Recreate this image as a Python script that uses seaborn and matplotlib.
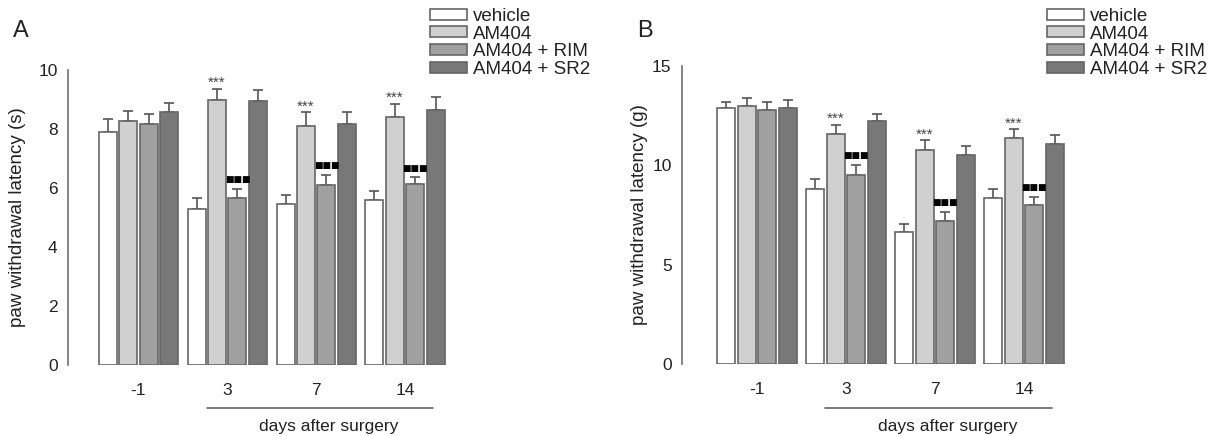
import seaborn as sns
import pandas as pd
import matplotlib.pyplot as plt
from matplotlib.patches import Patch

days = ["-1", "3", "7", "14"]
groups = ["vehicle", "AM404", "AM404 + RIM", "AM404 + SR2"]
colors = ["#ffffff", "#d0d0d0", "#a0a0a0", "#787878"]

# panel A: latency (s), mean per group and day
a_vehicle = [7.90, 5.28, 5.45, 5.60]
a_am404 = [8.27, 8.98, 8.10, 8.42]
a_rim = [8.18, 5.65, 6.10, 6.15]
a_sr2 = [8.58, 8.94, 8.18, 8.63]
a_vehicle_err = [0.43, 0.38, 0.31, 0.30]
a_am404_err = [0.33, 0.39, 0.48, 0.44]
a_rim_err = [0.33, 0.31, 0.33, 0.21]
a_sr2_err = [0.31, 0.39, 0.41, 0.44]

# panel B: latency (g)
b_vehicle = [12.88, 8.83, 6.63, 8.38]
b_am404 = [13.00, 11.58, 10.75, 11.37]
b_rim = [12.80, 9.50, 7.22, 7.98]
b_sr2 = [12.87, 12.25, 10.50, 11.06]
b_vehicle_err = [0.30, 0.48, 0.40, 0.44]
b_am404_err = [0.41, 0.47, 0.52, 0.44]
b_rim_err = [0.41, 0.52, 0.43, 0.45]
b_sr2_err = [0.40, 0.32, 0.45, 0.45]

# which bars carry marks (day index)
star_days = [1, 2, 3]
square_days = [1, 2, 3]


def make_df(vals):
    rows = []
    for g, v in zip(groups, vals):
        for d, x in zip(days, v):
            rows.append({"day": d, "group": g, "value": x})
    return pd.DataFrame(rows)


def draw_panel(fig, rect, vals, errs, ymax, yticks, ylabel, letter, letter_x,
               legend_x, ylab_x, xleft):
    ax = fig.add_axes(rect)
    df = make_df(vals)
    sns.barplot(data=df, x="day", y="value", hue="group", order=days,
                hue_order=groups, palette=colors, edgecolor="#666666",
                linewidth=1.2, width=0.92, gap=0.12, legend=False, ax=ax)
    # error bars (upper only) on top of the seaborn bars
    for cont, err in zip(ax.containers, errs):
        xs = [p.get_x() + p.get_width() / 2 for p in cont.patches]
        hs = [p.get_height() for p in cont.patches]
        ax.errorbar(xs, hs, yerr=[[0] * len(err), err], fmt="none",
                    ecolor="#555555", elinewidth=1.2, capsize=3.3,
                    capthick=1.2, zorder=1)
    for p in ax.patches:
        p.set_zorder(2)
    # significance marks
    am = ax.containers[1].patches
    rim = ax.containers[2].patches
    for i in star_days:
        top = am[i].get_height() + errs[1][i]
        ax.annotate("***", (am[i].get_x() + am[i].get_width() / 2, top),
                    xytext=(0, 1), textcoords="offset points", ha="center",
                    va="baseline", fontsize=11, color="#444444")
    for i in square_days:
        top = rim[i].get_height() + errs[2][i]
        ax.annotate("\u25a0\u25a0\u25a0",
                    (rim[i].get_x() + rim[i].get_width() / 2, top),
                    xytext=(0, 3.5), textcoords="offset points", ha="center",
                    va="bottom", fontsize=6.5, color="black",
                    family=["DejaVu Sans"])

    ax.set_xlim(xleft, 3.55)
    ax.set_ylim(0, ymax)
    ax.set_yticks(yticks)
    ax.set_xlabel("")
    ax.set_ylabel(ylabel, fontsize=13.5, color="#222222")
    ax.yaxis.set_label_coords(ylab_x, 0.5)
    sns.despine(ax=ax, bottom=True)
    ax.spines["left"].set_color("#707070")
    ax.spines["left"].set_linewidth(1.2)
    ax.tick_params(axis="y", length=4, width=1.2, color="#707070",
                   labelsize=12.5, labelcolor="#222222")
    ax.tick_params(axis="x", length=0, pad=13, labelsize=12.5,
                   labelcolor="#222222")

    # bracket line and caption for post-surgery days
    trans = ax.get_xaxis_transform()
    ax.plot([0.77, 3.31], [-0.146, -0.146], transform=trans, color="#707070",
            lw=1.3, clip_on=False)
    ax.text(2.14, -0.21, "days after surgery", transform=trans, ha="center",
            va="center", fontsize=12.5, color="#222222")

    fig.text(letter_x, 0.93, letter, fontsize=17, ha="center", va="center",
             color="#222222")

    handles = [Patch(facecolor=c, edgecolor="#666666", linewidth=1.2)
               for c in colors]
    fig.legend(handles, groups, loc="upper left",
               bbox_to_anchor=(legend_x, 0.982), frameon=False, fontsize=13.5,
               handlelength=1.97, handleheight=0.53, handletextpad=0.32,
               labelspacing=0.04, borderpad=0, borderaxespad=0,
               labelcolor="#222222")
    return ax


def main():
    sns.set_style("white")
    plt.rcParams["font.family"] = ["Liberation Sans", "DejaVu Sans"]
    fig = plt.figure(figsize=(12.17, 4.36), dpi=100)

    draw_panel(fig, [0.0559, 0.1628, 0.3172, 0.6766],
               [a_vehicle, a_am404, a_rim, a_sr2],
               [a_vehicle_err, a_am404_err, a_rim_err, a_sr2_err],
               10, [0, 2, 4, 6, 8, 10], "paw withdrawal latency (s)", "A",
               0.0175, 0.3533, -0.108, -0.79)
    draw_panel(fig, [0.5604, 0.1651, 0.3213, 0.6835],
               [b_vehicle, b_am404, b_rim, b_sr2],
               [b_vehicle_err, b_am404_err, b_rim_err, b_sr2_err],
               15, [0, 5, 10, 15], "paw withdrawal latency (g)", "B",
               0.530, 0.8603, -0.086, -0.84)

    fig.savefig("out.png", dpi=100)


if __name__ == "__main__":
    main()
